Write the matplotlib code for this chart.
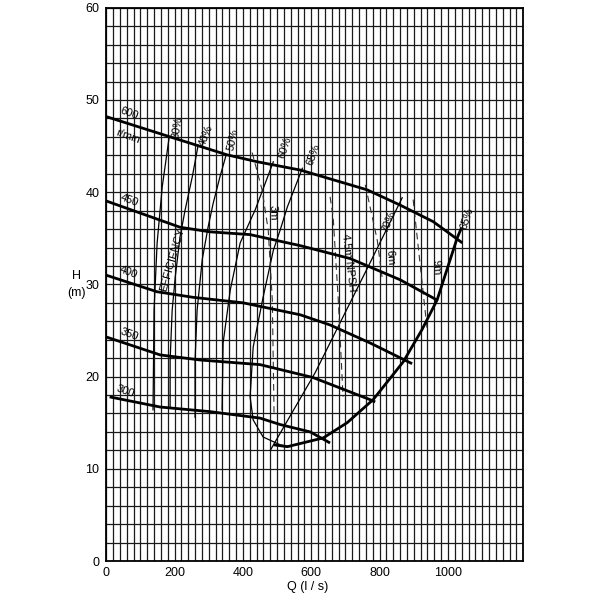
import matplotlib
matplotlib.use("Agg")
import matplotlib.pyplot as plt
import numpy as np

plt.rcParams['font.family'] = ['Liberation Sans', 'DejaVu Sans']

# Head curves H (m) vs Q (l/s) for each speed
Q_600 = [0, 187, 354, 442, 568, 714, 764, 860, 957, 1042]
H_600 = [48.2, 46.0, 44.05, 43.3, 42.4, 40.8, 40.25, 38.6, 36.8, 34.5]
Q_450 = [0, 216, 304, 421, 568, 714, 860, 968]
H_450 = [39.05, 36.2, 35.7, 35.4, 34.2, 32.8, 30.5, 28.3]
Q_400 = [0, 149, 254, 401, 568, 655, 772, 895]
H_400 = [31.0, 29.2, 28.6, 28.0, 26.7, 25.6, 23.65, 21.4]
Q_350 = [0, 158, 275, 450, 605, 772, 787]
H_350 = [24.3, 22.35, 21.8, 21.3, 19.9, 17.5, 17.25]
Q_300 = [10, 158, 304, 450, 509, 597, 655]
H_300 = [17.8, 16.7, 16.2, 15.5, 14.8, 14.0, 12.8]

# efficiency lines
Q_E30 = [184, 164, 149, 140, 137]
H_E30 = [45.9, 40.6, 34.5, 27.2, 16.4]
Q_E40 = [269, 252, 231, 216, 202, 193, 187, 187]
H_E40 = [45.1, 41.7, 38.1, 35.15, 30.8, 27.2, 21.8, 16.7]
Q_E50 = [351, 333, 313, 298, 281, 266, 260, 260]
H_E50 = [44.05, 41.7, 38.8, 36.2, 32.7, 27.2, 21.8, 15.6]
Q_E60 = [489, 436, 392, 363, 342, 339]
H_E60 = [43.3, 38.1, 34.5, 29.4, 23.65, 16.4]
Q_E65L = [574, 530, 509, 489, 459, 430, 421, 430, 459, 509, 538]
H_E65L = [42.6, 38.4, 35.9, 33.7, 28.6, 23.2, 17.8, 15.3, 13.45, 12.6, 12.4]
Q_E65R = [490, 530, 635, 705, 781, 869, 924, 968, 1027, 1039]
H_E65R = [12.6, 12.4, 13.35, 15.0, 17.5, 21.6, 25.1, 28.3, 35.05, 36.1]
Q_E70 = [866, 766, 611, 480]
H_E70 = [39.4, 31.9, 20.4, 12.0]

# NPSH lines
Q_N3 = [427, 456, 474, 486, 491]
H_N3 = [44.3, 40.25, 35.9, 28.3, 16.1]
Q_N45 = [655, 664, 679, 693]
H_N45 = [39.5, 37.3, 28.3, 17.8]
Q_N6 = [758, 793, 807]
H_N6 = [40.8, 34.8, 30.8]
Q_N9 = [898, 939]
H_N9 = [39.2, 25.1]

x_ticks = [0, 200, 400, 600, 800, 1000]
y_ticks = [0, 10, 20, 30, 40, 50, 60]


def main():
    fig = plt.figure(figsize=(6, 6), dpi=100)
    ax = fig.add_axes([0.177, 0.065, 0.695, 0.922])
    ax.set_xlim(0, 1220)
    ax.set_ylim(0, 60)

    # 방안지 grid
    ax.set_xticks(x_ticks)
    ax.set_yticks(y_ticks)
    ax.set_xticks(np.arange(0, 1221, 20), minor=True)
    ax.set_yticks(np.arange(0, 61, 2), minor=True)
    ax.grid(which='both', color='#1a1a1a', linewidth=0.9)
    ax.set_axisbelow(True)
    ax.tick_params(which='both', length=0)
    ax.tick_params(axis='x', pad=4, labelsize=9)
    ax.tick_params(axis='y', pad=5, labelsize=9)
    for s in ax.spines.values():
        s.set_linewidth(1.3)

    # thin efficiency lines
    for q, h in [(Q_E30, H_E30), (Q_E40, H_E40), (Q_E50, H_E50),
                 (Q_E60, H_E60), (Q_E65L, H_E65L), (Q_E70, H_E70)]:
        ax.plot(q, h, color='k', lw=0.9)

    # NPSH lines (faint, broken)
    for q, h in [(Q_N3, H_N3), (Q_N45, H_N45), (Q_N6, H_N6), (Q_N9, H_N9)]:
        ax.plot(q, h, color='#333333', lw=0.8, ls=(0, (6, 4)))

    # head curves
    for q, h in [(Q_600, H_600), (Q_450, H_450), (Q_400, H_400),
                 (Q_350, H_350), (Q_300, H_300), (Q_E65R, H_E65R)]:
        ax.plot(q, h, color='k', lw=2.0, solid_capstyle='butt')

    # speed labels
    ax.text(66, 48.6, '600', fontsize=8, rotation=-20, ha='center', va='center')
    ax.text(64, 46.1, 'r/min', fontsize=8, rotation=-20, ha='center', va='center')
    ax.text(67, 39.1, '450', fontsize=8, rotation=-20, ha='center', va='center')
    ax.text(64, 31.3, '400', fontsize=8, rotation=-20, ha='center', va='center')
    ax.text(67, 24.6, '350', fontsize=8, rotation=-20, ha='center', va='center')
    ax.text(55, 18.4, '300', fontsize=8, rotation=-20, ha='center', va='center')

    # efficiency labels
    ax.text(210, 47.0, '30%', fontsize=8, rotation=80, ha='center', va='center')
    ax.text(292, 46.1, '40%', fontsize=8, rotation=68, ha='center', va='center')
    ax.text(371, 45.7, '50%', fontsize=8, rotation=78, ha='center', va='center')
    ax.text(523, 44.9, '60%', fontsize=8, rotation=72, ha='center', va='center')
    ax.text(605, 44.1, '65%', fontsize=8, rotation=70, ha='center', va='center')
    ax.text(827, 36.8, '70%', fontsize=8, rotation=68, ha='center', va='center')
    ax.text(1055, 37.1, '65%', fontsize=8, rotation=72, ha='center', va='center')
    ax.text(193, 32.7, 'EFFICIENCY', fontsize=8, rotation=74, ha='center', va='center')

    # NPSH labels
    ax.text(488, 37.8, '3m', fontsize=8, rotation=-88, ha='center', va='center')
    ax.text(710, 32.4, '4.5m NPSH', fontsize=8, rotation=-83, ha='center', va='center')
    ax.text(830, 32.9, '6m', fontsize=8, rotation=-85, ha='center', va='center')
    ax.text(964, 31.8, '9m', fontsize=8, rotation=-85, ha='center', va='center')

    # axis labels
    ax.text(-0.072, 0.515, 'H', transform=ax.transAxes, fontsize=9,
            ha='center', va='center')
    ax.text(-0.072, 0.485, '(m)', transform=ax.transAxes, fontsize=9,
            ha='center', va='center')
    ax.text(0.482, -0.047, 'Q (l / s)', transform=ax.transAxes, fontsize=9,
            ha='center', va='center')

    fig.savefig('out.png', dpi=100)


if __name__ == "__main__":
    main()
